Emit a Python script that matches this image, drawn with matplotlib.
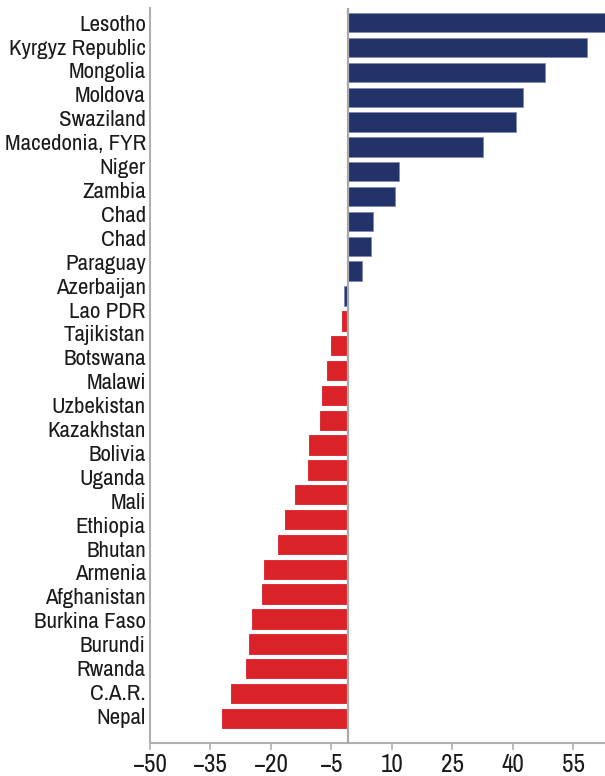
import numpy as np
import matplotlib
matplotlib.use("Agg")
import matplotlib.pyplot as plt
from matplotlib import font_manager

countries = ["Lesotho", "Kyrgyz Republic", "Mongolia", "Moldova", "Swaziland",
             "Macedonia, FYR", "Niger", "Zambia", "Chad", "Chad", "Paraguay",
             "Azerbaijan", "Lao PDR", "Tajikistan", "Botswana", "Malawi",
             "Uzbekistan", "Kazakhstan", "Bolivia", "Uganda", "Mali", "Ethiopia",
             "Bhutan", "Armenia", "Afghanistan", "Burkina Faso", "Burundi",
             "Rwanda", "C.A.R.", "Nepal"]

# bar lengths (29 bars drawn)
values = [66.0, 59.3, 48.7, 43.4, 41.6, 33.5, 12.5, 11.5, 6.2, 5.7, 3.4,
          -1.0, -1.65, -4.4, -5.4, -6.4, -7.1, -9.8, -10.1, -13.1, -15.6,
          -17.5, -21.0, -21.3, -24.0, -24.7, -25.5, -29.2, -31.4]
n_navy = 12

xticks = [-50, -35, -20, -5, 10, 25, 40, 55]

navy = "#22336a"
red = "#da2229"
grey = "#b0b0b0"
baseline = -0.8

# pick a condensed face if there is one
installed = set(f.name for f in font_manager.fontManager.ttflist)
font = "DejaVu Sans"
for cand in ["Archivo Narrow", "Roboto Condensed", "Liberation Sans Narrow",
             "DejaVu Sans Condensed"]:
    if cand in installed:
        font = cand
        break
plt.rcParams['font.family'] = [font, 'DejaVu Sans']

fig = plt.figure(figsize=(6.05, 7.76), dpi=100)
ax = fig.add_axes([150 / 605, 33 / 776, 455 / 605, 735 / 776])

ypos = np.arange(len(values))
colors = [navy if i < n_navy else red for i in range(len(values))]
edges = ["#8189b0" if i < n_navy else red for i in range(len(values))]
ax.barh(ypos, values, left=baseline, height=0.78, color=colors,
        edgecolor=edges, linewidth=0.6, zorder=2)

ax.axvline(baseline, color="#a8a8a8", lw=1.6, zorder=3)

ax.set_xlim(-50, 62.9)
ax.set_ylim(28.99, -0.59)
ax.set_xticks(xticks)
ax.set_xticklabels([str(t).replace("-", "\u2212") for t in xticks], fontsize=18)

ax.set_yticks(np.linspace(0, 27.9, len(countries)))
ax.set_yticklabels(countries, fontsize=16.5)

ax.tick_params(axis="y", length=0, pad=3, labelcolor="#1a1a1a")
ax.tick_params(axis="x", length=5, width=1.2, color=grey, pad=2, labelcolor="#1a1a1a")

for s in ["top", "right"]:
    ax.spines[s].set_visible(False)
for s in ["left", "bottom"]:
    ax.spines[s].set_color(grey)
    ax.spines[s].set_linewidth(1.5)

fig.savefig("out.png", dpi=100)
